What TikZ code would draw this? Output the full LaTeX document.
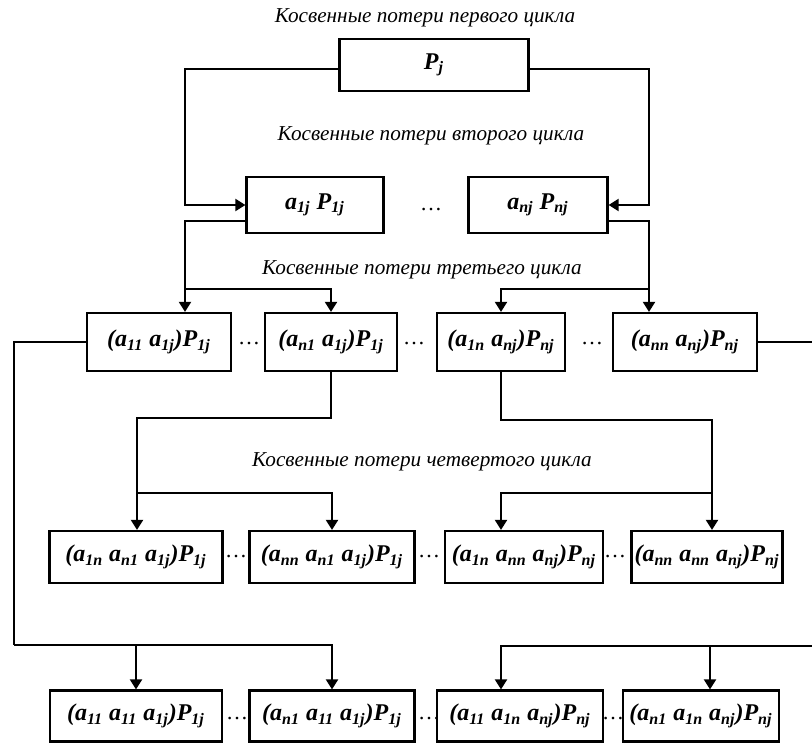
\documentclass[tikz,border=0pt]{standalone}
\usepackage{fontspec}
\setmainfont{Liberation Serif}
\usetikzlibrary{arrows.meta, positioning}

\newcommand{\ix}[1]{\textsubscript{#1}}

\tikzset{
  box/.style={draw, line width=1.1pt, inner sep=0pt, minimum height=28pt,
    font=\fontsize{12}{14}\selectfont\bfseries\itshape},
  cycle/.style={font=\fontsize{10.6}{13}\selectfont\itshape},
  gap/.style={font=\fontsize{11}{13}\selectfont},
  link/.style={line width=1pt},
}

\begin{document}
\begin{tikzpicture}[x=0.5pt, y=-0.5pt, >={Triangle[length=5pt, width=6pt]}]
    \useasboundingbox (0,0) rectangle (812,744);

    % Titles of the cycles
    \node[cycle] (t1) at (425,18) {Косвенные потери первого цикла};
    \node[cycle] (t2) at (431,136) {Косвенные потери второго цикла};
    \node[cycle] (t3) at (422,270) {Косвенные потери третьего цикла};
    \node[cycle] (t4) at (422,462) {Косвенные потери четвертого цикла};

    % First cycle
    \node[box, minimum width=94.5pt, minimum height=26pt] (p) at (434,65) {P\ix{j}};

    % Second cycle
    \node[box, minimum width=68.5pt] (a1) at (315,205) {a\ix{1j} P\ix{1j}};
    \node[gap] (g2) at (431,210) {\dots};
    \node[box, minimum width=69.5pt] (an) at (538,205) {a\ix{nj} P\ix{nj}};

    % Third cycle
    \node[box, minimum width=72pt, minimum height=29pt] (b1) at (159,342) {(a\ix{11} a\ix{1j})P\ix{1j}};
    \node[box, minimum width=66pt, minimum height=29pt] (b2) at (331,342) {(a\ix{n1} a\ix{1j})P\ix{1j}};
    \node[box, minimum width=64pt, minimum height=29pt] (b3) at (501,342) {(a\ix{1n} a\ix{nj})P\ix{nj}};
    \node[box, minimum width=72pt, minimum height=29pt] (b4) at (685,342) {(a\ix{nn} a\ix{nj})P\ix{nj}};
    \node[gap] (g31) at (249,344) {\dots};
    \node[gap] (g32) at (414,344) {\dots};
    \node[gap] (g33) at (592,344) {\dots};

    % Fourth cycle
    \node[box, minimum width=86.5pt, minimum height=26pt] (c1) at (136,557) {(a\ix{1n} a\ix{n1} a\ix{1j})P\ix{1j}};
    \node[box, minimum width=82.5pt, minimum height=26pt] (c2) at (332,557) {(a\ix{nn} a\ix{n1} a\ix{1j})P\ix{1j}};
    \node[box, minimum width=79pt, minimum height=26pt] (c3) at (524,557) {(a\ix{1n} a\ix{nn} a\ix{nj})P\ix{nj}};
    \node[box, minimum width=75.5pt, minimum height=26pt] (c4) at (707,557) {(a\ix{nn} a\ix{nn} a\ix{nj})P\ix{nj}};
    \node[gap] (g41) at (236,557) {\dots};
    \node[gap] (g42) at (429,557) {\dots};
    \node[gap] (g43) at (615,557) {\dots};

    % Fifth row
    \node[box, minimum width=86pt, minimum height=25.5pt] (d1) at (136,716) {(a\ix{11} a\ix{11} a\ix{1j})P\ix{1j}};
    \node[box, minimum width=82.5pt, minimum height=25.5pt] (d2) at (332,716) {(a\ix{n1} a\ix{11} a\ix{1j})P\ix{1j}};
    \node[box, minimum width=83pt, minimum height=25.5pt] (d3) at (520,716) {(a\ix{11} a\ix{1n} a\ix{nj})P\ix{nj}};
    \node[box, minimum width=78pt, minimum height=25.5pt] (d4) at (701,716) {(a\ix{n1} a\ix{1n} a\ix{nj})P\ix{nj}};
    \node[gap] (g51) at (237,718) {\dots};
    \node[gap] (g52) at (429,718) {\dots};
    \node[gap] (g53) at (613,718) {\dots};

    % Turning points
    \coordinate (xl) at (185,0);
    \coordinate (xr) at (649,0);
    \coordinate (u1) at (185,289);
    \coordinate (u2) at (649,289);
    \coordinate (v3) at (501,289);
    \coordinate (w0) at (137,418);
    \coordinate (w1) at (137,493);
    \coordinate (w2) at (712,420);
    \coordinate (w3) at (712,493);
    \coordinate (m1) at (14,645);
    \coordinate (m2) at (830,646);
    \coordinate (m3) at (710,646);

    % First -> second
    \draw[link,->] ([yshift=-2pt]p.west) -| (xl |- a1.west) -- (a1.west);
    \draw[link,->] ([yshift=-2pt]p.east) -| (xr |- an.east) -- (an.east);

    % Second -> third
    \draw[link] ([yshift=-8pt]a1.west) -| (u1);
    \draw[link,->] (u1) -- (u1 |- b1.north);
    \draw[link,->] (u1) -| (b2.north);
    \draw[link] ([yshift=-8pt]an.east) -| (u2);
    \draw[link,->] (u2) -- (u2 |- b4.north);
    \draw[link,->] (u2) -- (v3) -- (b3.north);

    % Third -> fourth
    \draw[link] (b2.south) |- (w0) -- (w1);
    \draw[link,->] (w1) -- (w1 |- c1.north);
    \draw[link,->] (w1) -| (c2.north);
    \draw[link] (b3.south) |- (w2) -- (w3);
    \draw[link,->] (w3) -- (w3 |- c4.north);
    \draw[link,->] (w3) -| (b3.south |- c3.north);

    % Third -> fifth
    \draw[link] (b1.west) -| (m1);
    \draw[link,->] (m1) -| (d2.north);
    \draw[link,->] (d1.north |- m1) -- (d1.north);
    \draw[link] (b4.east) -| (m2);
    \draw[link,->] (m2) -| (b3.south |- d3.north);
    \draw[link,->] (m3) -- (m3 |- d4.north);
\end{tikzpicture}
\end{document}
